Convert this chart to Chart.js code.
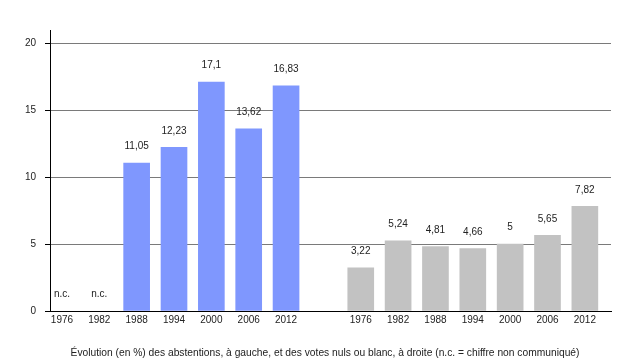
<!DOCTYPE html>
<html>
<head>
<meta charset="utf-8">
<script src="https://cdn.jsdelivr.net/npm/chart.js@4/dist/chart.umd.min.js"></script>
<style>
html,body{margin:0;padding:0;background:#fff;}
#wrap{width:640px;height:360px;}
</style>
</head>
<body>
<div id="wrap"><canvas id="c" width="640" height="360"></canvas></div>
<script>
// Category labels (one empty slot separates the two groups)
const years = ['1976','1982','1988','1994','2000','2006','2012','','1976','1982','1988','1994','2000','2006','2012'];
// Abstentions (%) — left group, slots 0..6 (null = n.c.)
const abstentions = [null, null, 11.05, 12.23, 17.1, 13.62, 16.83];
// Votes nuls ou blancs (%) — right group, slots 8..14
const votesNuls = [3.22, 5.24, 4.81, 4.66, 5, 5.65, 7.82];
const yTicks = [0, 5, 10, 15, 20];
const caption = 'Évolution (en %) des abstentions, à gauche, et des votes nuls ou blanc, à droite (n.c. = chiffre non communiqué)';

const leftData = abstentions.map((v, i) => ({x: i, y: v}));
const rightData = votesNuls.map((v, i) => ({x: i + 8, y: v}));

const fontFamily = '"Liberation Sans", Arial, Helvetica, sans-serif';

const valueLabels = {
  id: 'valueLabels',
  afterDatasetsDraw(chart) {
    const ctx = chart.ctx;
    const yScale = chart.scales.y;
    ctx.save();
    ctx.font = '10px ' + fontFamily;
    ctx.fillStyle = '#222';
    ctx.textAlign = 'center';
    ctx.textBaseline = 'middle';
    chart.data.datasets.forEach((ds, di) => {
      ds.data.forEach((d) => {
        const x = chart.scales.x.getPixelForValue(d.x);
        let txt, y;
        if (d.y === null || d.y === undefined) {
          txt = 'n.c.';
          y = yScale.getPixelForValue(0) - 17;
        } else {
          txt = String(d.y).replace('.', ',');
          y = yScale.getPixelForValue(d.y) - 16.5;
        }
        ctx.fillText(txt, x, y);
      });
    });
    ctx.restore();
  },
  afterDraw(chart) {
    const ctx = chart.ctx;
    ctx.save();
    ctx.font = '10.25px ' + fontFamily;
    ctx.fillStyle = '#222';
    ctx.textAlign = 'center';
    ctx.textBaseline = 'middle';
    ctx.fillText(caption, 325, 353);
    ctx.restore();
  }
};

new Chart(document.getElementById('c'), {
  type: 'bar',
  data: {
    datasets: [
      {label: 'Abstentions', data: leftData, backgroundColor: '#7F97FE', grouped: false, barThickness: 26},
      {label: 'Votes nuls ou blancs', data: rightData, backgroundColor: '#C2C2C2', grouped: false, barThickness: 26}
    ]
  },
  options: {
    responsive: false,
    animation: false,
    events: [],
    layout: {padding: {top: 30, right: 29, left: 0, bottom: 13}},
    plugins: {
      legend: {display: false},
      tooltip: {enabled: false},
      title: {display: false}
    },
    scales: {
      x: {
        type: 'linear',
        offset: false,
        min: -0.32,
        max: 14.70,
        grid: {display: false, drawTicks: false, offset: false},
        border: {display: true, color: '#000', width: 1},
        afterBuildTicks(scale) {
          scale.ticks = years.map((y, i) => ({value: i})).filter(t => years[t.value] !== '');
        },
        afterFit(scale) { scale.height = 36; },
        ticks: {
          autoSkip: false,
          maxRotation: 0,
          padding: 3,
          color: '#222',
          font: {family: fontFamily, size: 10},
          callback: (v) => years[v] ?? ''
        }
      },
      y: {
        min: 0,
        max: 21,
        afterBuildTicks(scale) {
          scale.ticks = yTicks.map(v => ({value: v}));
        },
        afterFit(scale) { scale.width = 50; },
        grid: {color: '#7a7a7a', lineWidth: 1, tickLength: 5, tickColor: '#000', drawTicks: true},
        border: {display: true, color: '#000', width: 1},
        ticks: {
          padding: 9,
          color: '#222',
          font: {family: fontFamily, size: 10},
          stepSize: 5
        }
      }
    }
  },
  plugins: [valueLabels]
});
</script>
</body>
</html>
